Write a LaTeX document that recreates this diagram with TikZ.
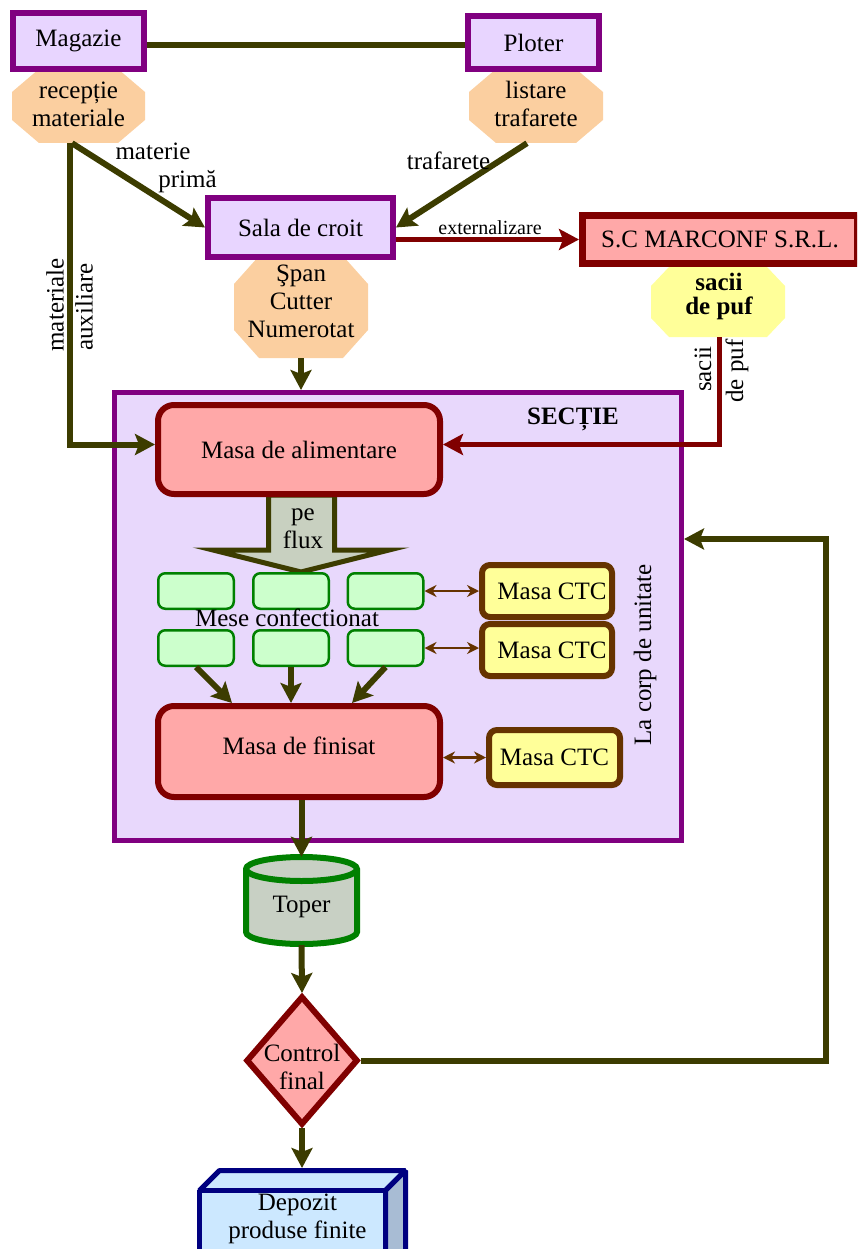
\documentclass[tikz,border=0pt]{standalone}
\usepackage{fontspec}
\setmainfont{Liberation Serif}
\usetikzlibrary{arrows.meta,shapes.geometric}

\definecolor{lav}{HTML}{E8D5FF}
\definecolor{seclav}{HTML}{E8D8FC}
\definecolor{purp}{HTML}{800080}
\definecolor{peach}{HTML}{FBCFA0}
\definecolor{olivel}{HTML}{3C3C00}
\definecolor{dred}{HTML}{800000}
\definecolor{pinkf}{HTML}{FFA8A8}
\definecolor{yel}{HTML}{FFFF99}
\definecolor{brn}{HTML}{663300}
\definecolor{grn}{HTML}{008000}
\definecolor{lgrn}{HTML}{CCFFCC}
\definecolor{cylf}{HTML}{C8D0C4}
\definecolor{navyb}{HTML}{000080}
\definecolor{depf}{HTML}{CCE8FF}
\definecolor{deps}{HTML}{A8BCD4}
\definecolor{flowf}{HTML}{C8D0C0}

% filled octagon: colour, centre x, centre y, half width, half height, chamfer x, chamfer y
\newcommand{\octshape}[7]{%
  \fill[#1] ({#2-#4+#6},{#3-#5}) -- ({#2+#4-#6},{#3-#5}) -- ({#2+#4},{#3-#5+#7})
    -- ({#2+#4},{#3+#5-#7}) -- ({#2+#4-#6},{#3+#5}) -- ({#2-#4+#6},{#3+#5})
    -- ({#2-#4},{#3+#5-#7}) -- ({#2-#4},{#3-#5+#7}) -- cycle;}

\begin{document}
\begin{tikzpicture}[x=1pt,y=-1pt,
  font=\fontsize{25}{28}\selectfont,
  pbox/.style={draw=purp, line width=6pt, fill=lav, inner sep=0pt},
  rbox/.style={draw=dred, line width=6pt, fill=pinkf, rounded corners=16pt, inner sep=0pt},
  ctcbox/.style={draw=brn, line width=6pt, fill=yel, rounded corners=8pt, inner sep=0pt},
  gbox/.style={draw=grn, line width=2.5pt, fill=lgrn, rounded corners=7pt,
               minimum width=75.5pt, minimum height=35.5pt, inner sep=0pt},
  octtext/.style={align=center, inner sep=0pt},
  flow/.style={draw=olivel, line width=6pt, -{Stealth[length=20pt,width=21pt,inset=4pt]}},
  link/.style={draw=olivel, line width=5.5pt},
  redflow/.style={draw=dred, line width=5pt, -{Stealth[length=20pt,width=21pt,inset=4pt]}},
  ctcl/.style={draw=brn, line width=2.5pt,
               {Stealth[length=12pt,width=12pt]}-{Stealth[length=12pt,width=12pt]}},
  lbl/.style={inner sep=0pt}]

\clip (0,0) rectangle (857,1249);

% ---------- top: store and plotter ----------
\octshape{peach}{78.5}{106}{66.5}{37}{27}{23}
\octshape{peach}{536}{106}{67}{37}{27}{23}
\node[octtext, minimum width=133pt, minimum height=78pt] (rec) at (78.5,104) {recepție\\materiale};
\node[octtext, minimum width=134pt, minimum height=78pt] (lst) at (536,104) {listare\\trafarete};
\node[pbox, minimum width=131pt, minimum height=56pt] (mag) at (78.5,41) {Magazie};
\node[pbox, minimum width=131pt, minimum height=53pt] (plo) at (533.5,42.5) {Ploter};
\draw[link] ([yshift=-4pt]mag.east) -- ([yshift=-4pt]mag.east -| plo.west);

% ---------- cutting room ----------
\octshape{peach}{301}{307}{67}{51}{25}{28}
\node[octtext, minimum width=134pt, minimum height=114pt] (span) at (301,301) {Şpan\\Cutter\\Numerotat};
\node[pbox, minimum width=185pt, minimum height=59pt] (sala) at (300.5,227.5) {Sala de croit};

% ---------- subcontractor ----------
\octshape{yel}{718}{302}{67}{35}{18}{19}
\node[octtext, font=\fontsize{25}{24}\selectfont\bfseries, minimum width=134pt, minimum height=82pt] (sac) at (719,296) {sacii\\de puf};
\node[draw=dred, line width=7pt, fill=pinkf, inner sep=0pt, minimum width=275pt, minimum height=48pt] (marc) at (720,239.5) {S.C MARCONF S.R.L.};

% ---------- section ----------
\node[draw=purp, line width=5pt, fill=seclav, minimum width=567pt, minimum height=448pt, inner sep=0pt] (sec) at (398,616.5) {};
\node[lbl, font=\fontsize{25}{28}\selectfont\bfseries] (sectitle) at (573,419) {SECȚIE};
\node[lbl, rotate=90] (corp) at (645,655) {La corp de unitate};

% wide flow arrow
\filldraw[fill=flowf, draw=olivel, line width=5pt, line join=miter]
  (268.5,495) -- (268.5,550) -- (213,550) -- (301,572) -- (389,550) -- (334.5,550) -- (334.5,495) -- cycle;
\node[lbl, align=center] (peflux) at (303,529) {pe\\flux};

\node[rbox, minimum width=282pt, minimum height=89pt] (alim) at (299,449.5) {Masa de alimentare};

\node[gbox] (g1) at (196,591) {};
\node[gbox] (g2) at (291,591) {};
\node[gbox] (g3) at (385.5,591) {};
\node[gbox] (g4) at (196,648) {};
\node[gbox] (g5) at (291,648) {};
\node[gbox] (g6) at (385.5,648) {};
\node[lbl] (mese) at (287,618) {Mese confectionat};

\node[ctcbox, minimum width=130pt, minimum height=52pt] (ctc1) at (547,591) {\hspace*{10pt}Masa CTC};
\node[ctcbox, minimum width=130pt, minimum height=52pt] (ctc2) at (547,650) {\hspace*{10pt}Masa CTC};

\node[rbox, minimum width=282pt, minimum height=91pt] (fin) at (299,751.5) {\raisebox{-3pt}[0pt][0pt]{Masa de finisat}};
\node[ctcbox, minimum width=131pt, minimum height=55pt] (ctc3) at (554.5,757.5) {Masa CTC};

\draw[ctcl] (g3.east) -- (g3.east -| ctc1.west);
\draw[ctcl] (g6.east) -- (g6.east -| ctc2.west);
\draw[ctcl] (fin.east |- ctc3.west) -- (ctc3.west);

\draw[flow] (g4.south) -- ([xshift=-67pt]fin.north);
\draw[flow] (g5.south) -- (g5.south |- fin.north);
\draw[flow] (g6.south) -- ([xshift=53pt]fin.north);

% ---------- cylinder ----------
\filldraw[fill=cylf, draw=grn, line width=6pt]
  (246,869) -- (246,932) arc[start angle=180, end angle=360, x radius=55.5pt, y radius=12pt]
  -- (357,869) arc[start angle=0, end angle=180, x radius=55.5pt, y radius=12pt] -- cycle;
\draw[grn, line width=6pt] (246,869) arc[start angle=180, end angle=360, x radius=55.5pt, y radius=12pt];
\node[lbl, minimum width=117pt, minimum height=88pt] (toper) at (301.5,901) {\raisebox{-11pt}[0pt][0pt]{Toper}};

% ---------- final check ----------
\node[diamond, draw=dred, line width=6pt, fill=pinkf, inner sep=0pt,
      minimum width=112pt, minimum height=129pt,
      label={[align=center, yshift=-6pt]center:Control\\final}] (ctrl) at (302,1060.5) {};

% ---------- finished goods store ----------
\begin{scope}[line join=bevel]
\filldraw[fill=depf, draw=navyb, line width=5pt]
  (199.5,1190.5) -- (219.5,1170.5) -- (405.5,1170.5) -- (385.5,1190.5) -- cycle;
\filldraw[fill=deps, draw=navyb, line width=5pt]
  (385.5,1190.5) -- (405.5,1170.5) -- (405.5,1255) -- (385.5,1275) -- cycle;
\filldraw[fill=depf, draw=navyb, line width=5pt]
  (199.5,1190.5) rectangle (385.5,1275);
\end{scope}
\node[lbl, align=center] (dep) at (297.5,1219) {Depozit\\produse finite};
\coordinate (deptop) at (302,1168);

% ---------- connectors ----------
\draw[flow] ([xshift=-6.5pt]rec.south) -- (sala.west);
\draw[flow] ([xshift=-8.5pt]rec.south) |- ([yshift=5pt]alim.west);
\draw[flow] ([xshift=-9pt]lst.south) -- (sala.east);
\draw[redflow] (sala.east |- marc.west) -- (marc.west);
\draw[redflow] (sac.south) |- ([yshift=5pt]alim.east);
\draw[flow] (span.south) -- (span.south |- sec.north);
\draw[flow] (toper.north |- fin.south) -- (toper.north);
\draw[flow] (toper.south) -- (ctrl.north);
\draw[flow] (ctrl.south) -- (deptop);
\coordinate (fbc) at (826,539);
\draw[flow] (ctrl.east) -| (fbc) -- (fbc -| sec.east);

% ---------- connector labels ----------
\node[lbl, anchor=base] (lmat1) at (153,160) {materie};
\node[lbl, anchor=base] (lmat2) at (187.5,188) {primă};
\node[lbl, anchor=base] (ltraf) at (448.5,170) {trafarete};
\node[lbl, anchor=base, font=\fontsize{20}{24}\selectfont] (lext) at (490,235) {externalizare};
\node[lbl, rotate=90] (laux1) at (55,305) {materiale};
\node[lbl, rotate=90] (laux2) at (84,307) {auxiliare};
\node[lbl, rotate=90] (lsac1) at (703,369) {sacii};
\node[lbl, rotate=90] (lsac2) at (737,371) {de puf};
\end{tikzpicture}
\end{document}
